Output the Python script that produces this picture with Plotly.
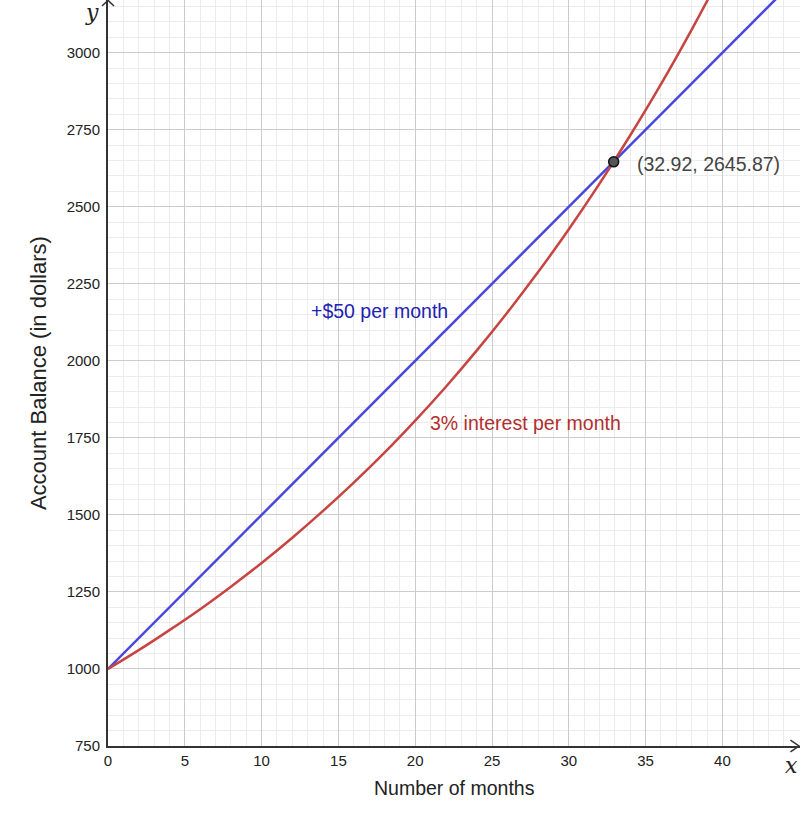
import plotly.graph_objects as go

# Data
months_blue = [0, 10, 20, 30, 40, 45]
balance_blue = [1000, 1500, 2000, 2500, 3000, 3250]

months_red = [0, 2, 4, 6, 8, 10, 12, 14, 16, 18, 20, 22, 24, 26, 28, 30, 32, 34, 36, 38, 40]
balance_red = [1000, 1061, 1126, 1194, 1267, 1344, 1426, 1513, 1605, 1702, 1806,
               1916, 2033, 2157, 2288, 2427, 2575, 2732, 2898, 3075, 3262]

cross_x = [32.92]
cross_y = [2645.87]

x_ticks = [0, 5, 10, 15, 20, 25, 30, 35, 40]
y_ticks = [750, 1000, 1250, 1500, 1750, 2000, 2250, 2500, 2750, 3000]

BLUE = "#4747e0"
RED = "#c74440"
FONT = "Liberation Sans, Arial, sans-serif"

fig = go.Figure()
fig.add_trace(go.Scatter(x=months_blue, y=balance_blue, mode="lines",
                         line=dict(color=BLUE, width=2.5), hoverinfo="skip"))
fig.add_trace(go.Scatter(x=months_red, y=balance_red, mode="lines",
                         line=dict(color=RED, width=2.5, shape="spline"), hoverinfo="skip"))
fig.add_trace(go.Scatter(x=cross_x, y=cross_y, mode="markers",
                         marker=dict(size=10, color="#555555", line=dict(color="#111111", width=1.5)),
                         hoverinfo="skip"))

fig.update_layout(
    width=800, height=816,
    margin=dict(l=108, r=0, t=0, b=70),
    plot_bgcolor="white", paper_bgcolor="white",
    showlegend=False,
    font=dict(family=FONT, size=15, color="#222"),
)
fig.update_xaxes(range=[0, 45.05], tickvals=x_ticks, showgrid=True, gridcolor="#cccccc", gridwidth=1,
                 minor=dict(dtick=1, showgrid=True, gridcolor="#ececec", gridwidth=1),
                 zeroline=False, showline=True, linecolor="#333333", linewidth=2,
                 ticks="", tickfont=dict(size=15, color="#222"))
fig.update_yaxes(range=[750, 3171], tickvals=y_ticks, showgrid=True, gridcolor="#cccccc", gridwidth=1,
                 minor=dict(dtick=50, showgrid=True, gridcolor="#ececec", gridwidth=1),
                 zeroline=False, showline=True, linecolor="#333333", linewidth=2,
                 ticks="", tickfont=dict(size=15, color="#222"), ticklabelstandoff=3)

# arrowheads
fig.add_shape(type="path", xref="paper", yref="paper",
              path="M 0.9862 0.0080 L 0.9985 0 L 0.9862 -0.0080",
              line=dict(color="#333333", width=1.5))
fig.add_shape(type="path", xref="paper", yref="paper",
              path="M -0.0087 0.9920 L 0 0.9995 L 0.0087 0.9920",
              line=dict(color="#333333", width=1.5))

anns = [
    dict(x=0.5, y=-0.056, xref="paper", yref="paper", text="Number of months",
         font=dict(size=19.5, color="#222"), showarrow=False, xanchor="center", yanchor="middle"),
    dict(x=-0.101, y=0.5, xref="paper", yref="paper", text="Account Balance (in dollars)",
         font=dict(size=22, color="#222"), textangle=-90, showarrow=False,
         xanchor="center", yanchor="middle"),
    dict(x=-0.023, y=0.983, xref="paper", yref="paper", text="<i>y</i>",
         font=dict(size=22, color="#222", family="DejaVu Serif, serif"), showarrow=False,
         xanchor="center", yanchor="middle"),
    dict(x=0.987, y=-0.026, xref="paper", yref="paper", text="<i>x</i>",
         font=dict(size=22, color="#222", family="DejaVu Serif, serif"), showarrow=False,
         xanchor="center", yanchor="middle"),
    dict(x=17.65, y=2162, text="+$50 per month", font=dict(size=19.5, color="#2121b4"),
         showarrow=False, xanchor="center", yanchor="middle"),
    dict(x=27.2, y=1798, text="3% interest per month", font=dict(size=19.5, color="#b32e2e"),
         showarrow=False, xanchor="center", yanchor="middle"),
    dict(x=34.33, y=2640, text="(32.92, 2645.87)", font=dict(size=19.5, color="#444444"),
         showarrow=False, xanchor="left", yanchor="middle"),
]
fig.update_layout(annotations=anns)

fig.write_html("out.html")
